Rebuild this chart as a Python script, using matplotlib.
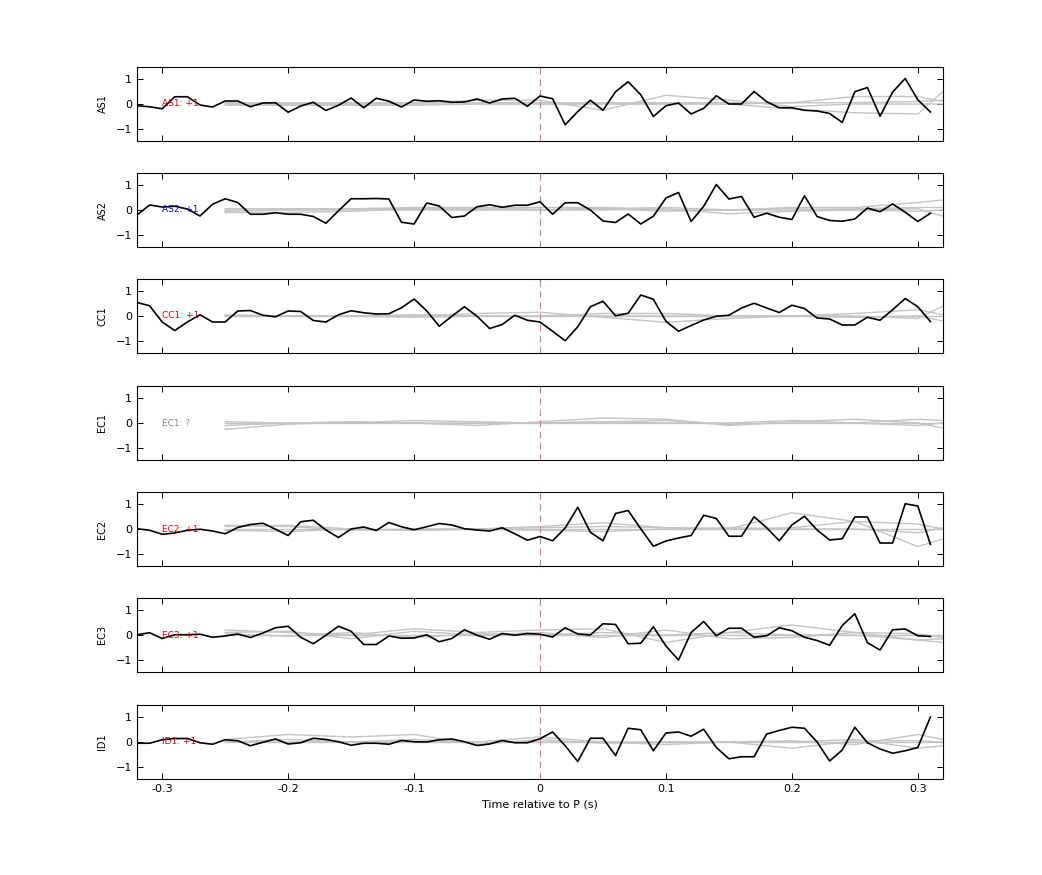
import numpy as np
import matplotlib
matplotlib.use("Agg")
import matplotlib.pyplot as plt

stations = ["AS1", "AS2", "CC1", "EC1", "EC2", "EC3", "ID1"]
labels = ["AS1: +1", "AS2: +1", "CC1: +1", "EC1: ?", "EC2: +1", "EC3: +1", "ID1: +1"]
label_colors = ["#dd0000", "#0000cc", "#dd0000", "#888888", "#dd0000", "#dd0000", "#dd0000"]

t_black = np.round(np.arange(-0.32, 0.315, 0.01), 3)
black = {
 "AS1": [-0.07,-0.11,-0.19,0.29,0.29,-0.04,-0.12,0.12,0.12,-0.11,
         0.04,0.05,-0.33,-0.08,0.07,-0.26,-0.05,0.24,-0.15,0.23,
         0.11,-0.12,0.16,0.11,0.13,0.07,0.08,0.2,0.04,0.2,
         0.23,-0.09,0.32,0.21,-0.83,-0.3,0.15,-0.25,0.49,0.89,
         0.37,-0.5,-0.07,0.04,-0.4,-0.17,0.33,0,0,0.5,
         0.09,-0.15,-0.15,-0.25,-0.28,-0.38,-0.74,0.49,0.66,-0.49,
         0.48,1.02,0.17,-0.32],
 "AS2": [-0.20,0.2,0.12,0.15,0.04,-0.24,0.23,0.45,0.3,-0.17,
         -0.17,-0.11,-0.17,-0.17,-0.26,-0.53,-0.03,0.45,0.45,0.46,
         0.44,-0.49,-0.56,0.28,0.16,-0.3,-0.24,0.13,0.21,0.11,
         0.19,0.19,0.33,-0.17,0.29,0.29,0,-0.44,-0.5,-0.16,
         -0.56,-0.25,0.48,0.7,-0.46,0.15,1.02,0.44,0.54,-0.29,
         -0.13,-0.29,-0.38,0.57,-0.26,-0.42,-0.45,-0.36,0.08,-0.07,
         0.24,-0.09,-0.46,-0.13],
 "CC1": [0.54,0.41,-0.24,-0.58,-0.24,0.05,-0.24,-0.24,0.2,0.22,
         0.03,-0.03,0.2,0.18,-0.18,-0.24,0.05,0.21,0.13,0.08,
         0.09,0.33,0.68,0.21,-0.41,-0.01,0.37,-0.01,-0.5,-0.34,
         0.03,-0.17,-0.24,-0.61,-0.99,-0.43,0.37,0.59,0.01,0.11,
         0.84,0.67,-0.21,-0.61,-0.38,-0.16,-0.01,0.03,0.32,0.51,
         0.32,0.14,0.43,0.3,-0.08,-0.12,-0.36,-0.36,-0.05,-0.17,
         0.25,0.7,0.37,-0.22],
 "EC2": [0.01,-0.05,-0.21,-0.16,-0.05,-0.01,-0.08,-0.19,0.06,0.18,
         0.23,-0.01,-0.26,0.29,0.35,-0.04,-0.34,0,0.08,-0.06,
         0.26,0.09,-0.03,0.09,0.22,0.16,0.01,-0.04,-0.08,0.05,
         -0.19,-0.45,-0.3,-0.47,0.04,0.87,-0.13,-0.47,0.62,0.74,
         0.01,-0.69,-0.48,-0.36,-0.26,0.55,0.42,-0.29,-0.29,0.49,
         0.05,-0.47,0.16,0.51,-0.04,-0.44,-0.39,0.48,0.48,-0.56,
         -0.56,1.01,0.92,-0.61],
 "EC3": [0.01,0.09,-0.14,0.01,0.01,0.03,-0.09,-0.04,0.04,-0.1,
         0.08,0.29,0.35,-0.09,-0.35,-0.01,0.35,0.15,-0.38,-0.38,
         -0.04,-0.13,-0.12,0.01,-0.27,-0.14,0.21,-0.01,-0.17,0.06,
         -0.01,0.06,0.03,-0.08,0.29,0.04,0,0.45,0.42,-0.35,
         -0.33,0.33,-0.44,-1.0,0.1,0.54,-0.03,0.27,0.27,-0.09,
         -0.03,0.29,0.17,-0.09,-0.22,-0.41,0.38,0.85,-0.31,-0.6,
         0.21,0.24,-0.03,-0.06],
 "ID1": [-0.05,-0.05,0.09,0.14,0.14,-0.03,-0.09,0.09,0.05,-0.15,
         -0.01,0.12,-0.08,-0.03,0.15,0.1,0.01,-0.13,-0.05,-0.05,
         -0.09,0.06,0.01,0,0.09,0.12,0.01,-0.14,-0.08,0.06,
         -0.03,-0.03,0.13,0.4,-0.15,-0.78,0.15,0.15,-0.54,0.55,
         0.49,-0.35,0.36,0.4,0.23,0.51,-0.22,-0.67,-0.59,-0.59,
         0.32,0.46,0.59,0.55,0,-0.76,-0.32,0.59,-0.03,-0.28,
         -0.45,-0.35,-0.22,1.0],
}

t_gray = [-0.25,-0.2,-0.15,-0.1,-0.05,0,0.05,0.1,0.15,0.2,0.25,0.3,0.32]
gray = {
 "AS1": [[0,0,0,0.05,0.15,0.15,-0.25,0.35,0.15,-0.1,0,0,0],
         [0,0,0,0,0,0,0,0,0,-0.2,-0.35,-0.4,0.5],
         [-0.05,-0.05,-0.05,-0.05,0,0,0,0,0,0.05,0.3,0.3,0.1],
         [0.05,0.05,0.05,0.05,0.05,0.05,0.05,0.05,0.05,0.05,0.05,0.1,0.15]],
 "AS2": [[0.05,0.05,0.05,0.1,0.1,0.1,0.05,0.1,0,0.1,0.1,0.3,0.4],
         [-0.1,-0.1,-0.05,0.05,0.05,0,0,0.05,-0.15,-0.05,0,0.05,-0.25],
         [0,0,0,0,0,0.1,0.1,0,0,0,0.05,0.1,0.1],
         [-0.05,0,0.05,0.05,0,0,0.05,-0.05,0,0.05,0,-0.05,0]],
 "CC1": [[0,0,0,0,0.1,0.15,-0.05,-0.25,-0.1,0,0.1,0.25,0.05],
         [0,0,0,0.05,0,0,0.1,0.1,0,0,0,-0.1,0.4],
         [0.05,0,0,-0.05,0,0,0,0,0,0,-0.05,0,-0.2],
         [0.02]*13],
 "EC1": [[-0.25,-0.05,0.05,0,-0.1,0.05,0.2,0.15,-0.1,0.05,0.15,0,-0.2],
         [0.05,0,0,0.1,0.05,0,0.05,0.1,-0.05,0,0,0.15,0.1],
         [-0.1,0,0.05,0,0,0,0.05,0,0,0.1,0,-0.1,0],
         [0.0]*13],
 "EC2": [[0.15,0.1,-0.05,0,0,0.1,0.25,0.05,0,0.65,0.3,-0.7,-0.4],
         [0.1,0.15,0,-0.05,0,0.05,0.1,0.05,0,0.05,0.3,0.2,0],
         [-0.05,-0.1,0,-0.05,0,-0.05,-0.1,0,0.05,0,0,-0.15,0.05],
         [0.0]*13],
 "EC3": [[0.2,0.1,0,0.25,0.1,0.2,0.25,-0.3,0.1,0.4,0.1,-0.2,-0.15],
         [0.1,0.15,-0.15,0.15,0,0.1,-0.1,0.2,-0.15,-0.1,0.1,0.05,-0.1],
         [0.05,-0.05,0.1,-0.1,0.05,0,0.1,0,0.1,0,0,-0.2,-0.3],
         [0.0]*13],
 "ID1": [[0.1,0.3,0.2,0.3,-0.1,0.1,-0.05,0,0,-0.25,0.05,0.05,0],
         [0,0.1,0,0.1,0,0.2,0,-0.1,0,0.05,-0.1,0.3,0.1],
         [0,0,0,0,0,0,0,0,0,0,0.1,-0.25,-0.15],
         [0.0]*13],
}

W, H = 1042, 875
fig = plt.figure(figsize=(W/100, H/100), dpi=100)
left, width = 137/W, 806/W
tops = [67, 173, 279, 386, 492, 598, 705]
ph = 74
for i, st in enumerate(stations):
    ax = fig.add_axes([left, 1-(tops[i]+ph)/H, width, ph/H])
    for g in gray[st]:
        ax.plot(t_gray, g, color="#c4c4c4", lw=1.0)
    ax.axvline(0, color="#e07a7a", lw=0.8, ls=(0, (6, 4)))
    if st in black:
        ax.plot(t_black, black[st], color="black", lw=1.2)
    ax.text(-0.30, 0, labels[i], color=label_colors[i], fontsize=6.5, va="center")
    ax.set_xlim(-0.32, 0.32)
    ax.set_ylim(-1.48, 1.48)
    ax.set_yticks([-1, 0, 1])
    ax.set_xticks([-0.3, -0.2, -0.1, 0, 0.1, 0.2, 0.3])
    ax.set_xticklabels(["-0.3", "-0.2", "-0.1", "0", "0.1", "0.2", "0.3"])
    ax.tick_params(direction="in", top=True, right=True, labelsize=8, length=4, width=0.7)
    ax.set_ylabel(st, fontsize=7, labelpad=6)
    for s in ax.spines.values():
        s.set_linewidth(0.8)
    if i < len(stations)-1:
        ax.tick_params(labelbottom=False)
    else:
        ax.set_xlabel("Time relative to P (s)", fontsize=8)
fig.savefig("out.png", dpi=100)
